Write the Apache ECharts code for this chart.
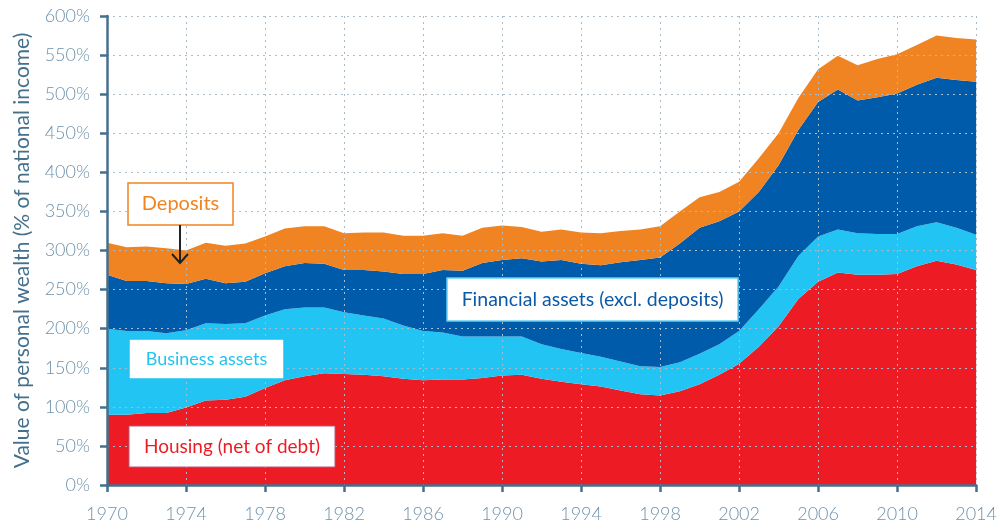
<!DOCTYPE html>
<html>
<head>
<meta charset="utf-8">
<title>Personal wealth</title>
<script src="https://cdn.jsdelivr.net/npm/echarts@6/dist/echarts.min.js"></script>
<style>
  body { margin: 0; background: #fff; }
  #main { width: 1000px; height: 529px; }
</style>
</head>
<body>
<div id="main"></div>
<script>
    // years on the x axis
    var years = [];
    for (var y = 1970; y <= 2014; y++) years.push(String(y));

    // % of national income (each layer's own thickness)
    var housing = [90, 90, 92, 92, 99, 108, 109, 113, 124, 134,
        139, 143, 142, 141, 139, 136, 134, 135, 135, 137,
        140, 141, 136, 132, 129, 126, 121, 116, 114.5, 120,
        129, 141, 155, 177, 203, 238, 260, 272, 269, 269,
        270, 280, 287, 282, 275];
    var business = [110, 107, 105, 102, 99, 99, 97, 94, 93, 91,
        88, 84, 79, 76, 74, 68, 63, 60, 55, 53,
        50, 49, 44, 42, 40, 38, 37, 36, 36.5, 37,
        39, 39, 42, 48, 51, 55, 58, 55, 53, 52,
        51, 51, 49, 47, 45];
    var financial = [69, 64, 64, 64, 59, 57, 52, 53, 54, 55,
        57, 56, 54, 58, 60, 66, 73, 80, 84, 94,
        98, 100, 106, 114, 114, 117, 127, 136, 140, 152,
        161, 157.5, 153, 150, 155, 161, 172, 179, 170, 175,
        180, 181, 185, 189, 196];
    var deposits = [41, 43, 44, 45, 43, 46, 48, 49, 47, 48,
        47, 48, 47, 48, 50, 49, 49, 47, 45, 45,
        44, 40, 38, 39, 40, 41, 40, 39, 40, 41,
        39, 37.5, 38, 43, 41, 41, 42, 43, 45, 49,
        50, 51, 54, 54, 54];

    var axisColor = '#44708d';
    var labelColor = '#6f92aa';
    var font = 'Lato, "Open Sans", sans-serif';

    function layer(name, values, color) {
        return {
            name: name,
            type: 'line',
            stack: 'wealth',
            data: values,
            symbol: 'none',
            lineStyle: { width: 0 },
            areaStyle: { color: color, opacity: 1 },
            itemStyle: { color: color },
            silent: true
        };
    }

    // label box: rect + centred text
    function box(x, y, w, h, text, size, textColor, borderColor, bw) {
        return [{
            type: 'rect',
            shape: { x: x, y: y, width: w, height: h },
            style: { fill: '#fff', stroke: borderColor, lineWidth: bw },
            z: 100
        }, {
            type: 'text',
            x: x + w / 2,
            y: y + h / 2,
            style: {
                text: text,
                fill: textColor,
                font: size + 'px ' + font,
                align: 'center',
                verticalAlign: 'middle'
            },
            z: 101
        }];
    }

    var graphics = [].concat(
        box(128, 183, 105, 42, 'Deposits', 20, '#f18422', '#f18422', 1.5),
        box(129, 339, 155, 40, 'Business assets', 18, '#21c4f2', '#21c4f2', 1.5),
        box(129, 426, 206, 41, 'Housing (net of debt)', 19, '#ed1c24', '#b8587c', 1),
        box(447, 278, 291, 43, 'Financial assets (excl. deposits)', 19.5, '#0a5aa8', '#5fcff2', 1.5),
        [{
            type: 'line',
            shape: { x1: 180, y1: 225, x2: 180, y2: 263 },
            style: { stroke: '#222', lineWidth: 2 },
            z: 100
        }, {
            type: 'polyline',
            shape: { points: [[172, 254], [180, 263], [188, 254]] },
            style: { stroke: '#222', lineWidth: 2, fill: null },
            z: 100
        }]
    );

    var myChart = echarts.init(document.getElementById('main'), null, { renderer: 'canvas' });
    myChart.setOption({
        animation: false,
        backgroundColor: '#fff',
        grid: { left: 107, right: 23, top: 16, bottom: 44 },
        xAxis: {
            type: 'category',
            data: years,
            boundaryGap: false,
            axisLine: { lineStyle: { color: axisColor, width: 2.5 } },
            axisTick: { interval: 3, length: 7, lineStyle: { color: axisColor, width: 2.5 } },
            axisLabel: { interval: 3, color: labelColor, fontSize: 18, fontWeight: 300, fontFamily: font, margin: 20 },
            splitLine: { show: true, interval: 3, lineStyle: { color: '#a9bcc8', type: [2, 4], width: 1 } },
            z: 10
        },
        yAxis: {
            type: 'value',
            min: 0,
            max: 600,
            interval: 50,
            name: 'Value of personal wealth (% of national income)',
            nameLocation: 'middle',
            nameGap: 74,
            nameTextStyle: { color: '#44708d', fontSize: 21, fontFamily: font },
            axisLine: { show: true, lineStyle: { color: axisColor, width: 2.5 } },
            axisTick: { show: true, length: 7, lineStyle: { color: axisColor, width: 2.5 } },
            axisLabel: { formatter: '{value}%', color: labelColor, fontSize: 18, fontWeight: 300, fontFamily: font, margin: 17 },
            splitLine: { show: true, lineStyle: { color: '#a9bcc8', type: [2, 4], width: 1 } },
            z: 10
        },
        series: [
            layer('Housing (net of debt)', housing, '#ed1c24'),
            layer('Business assets', business, '#21c4f2'),
            layer('Financial assets (excl. deposits)', financial, '#005baa'),
            layer('Deposits', deposits, '#f18422')
        ],
        graphic: graphics
    });
</script>
</body>
</html>
